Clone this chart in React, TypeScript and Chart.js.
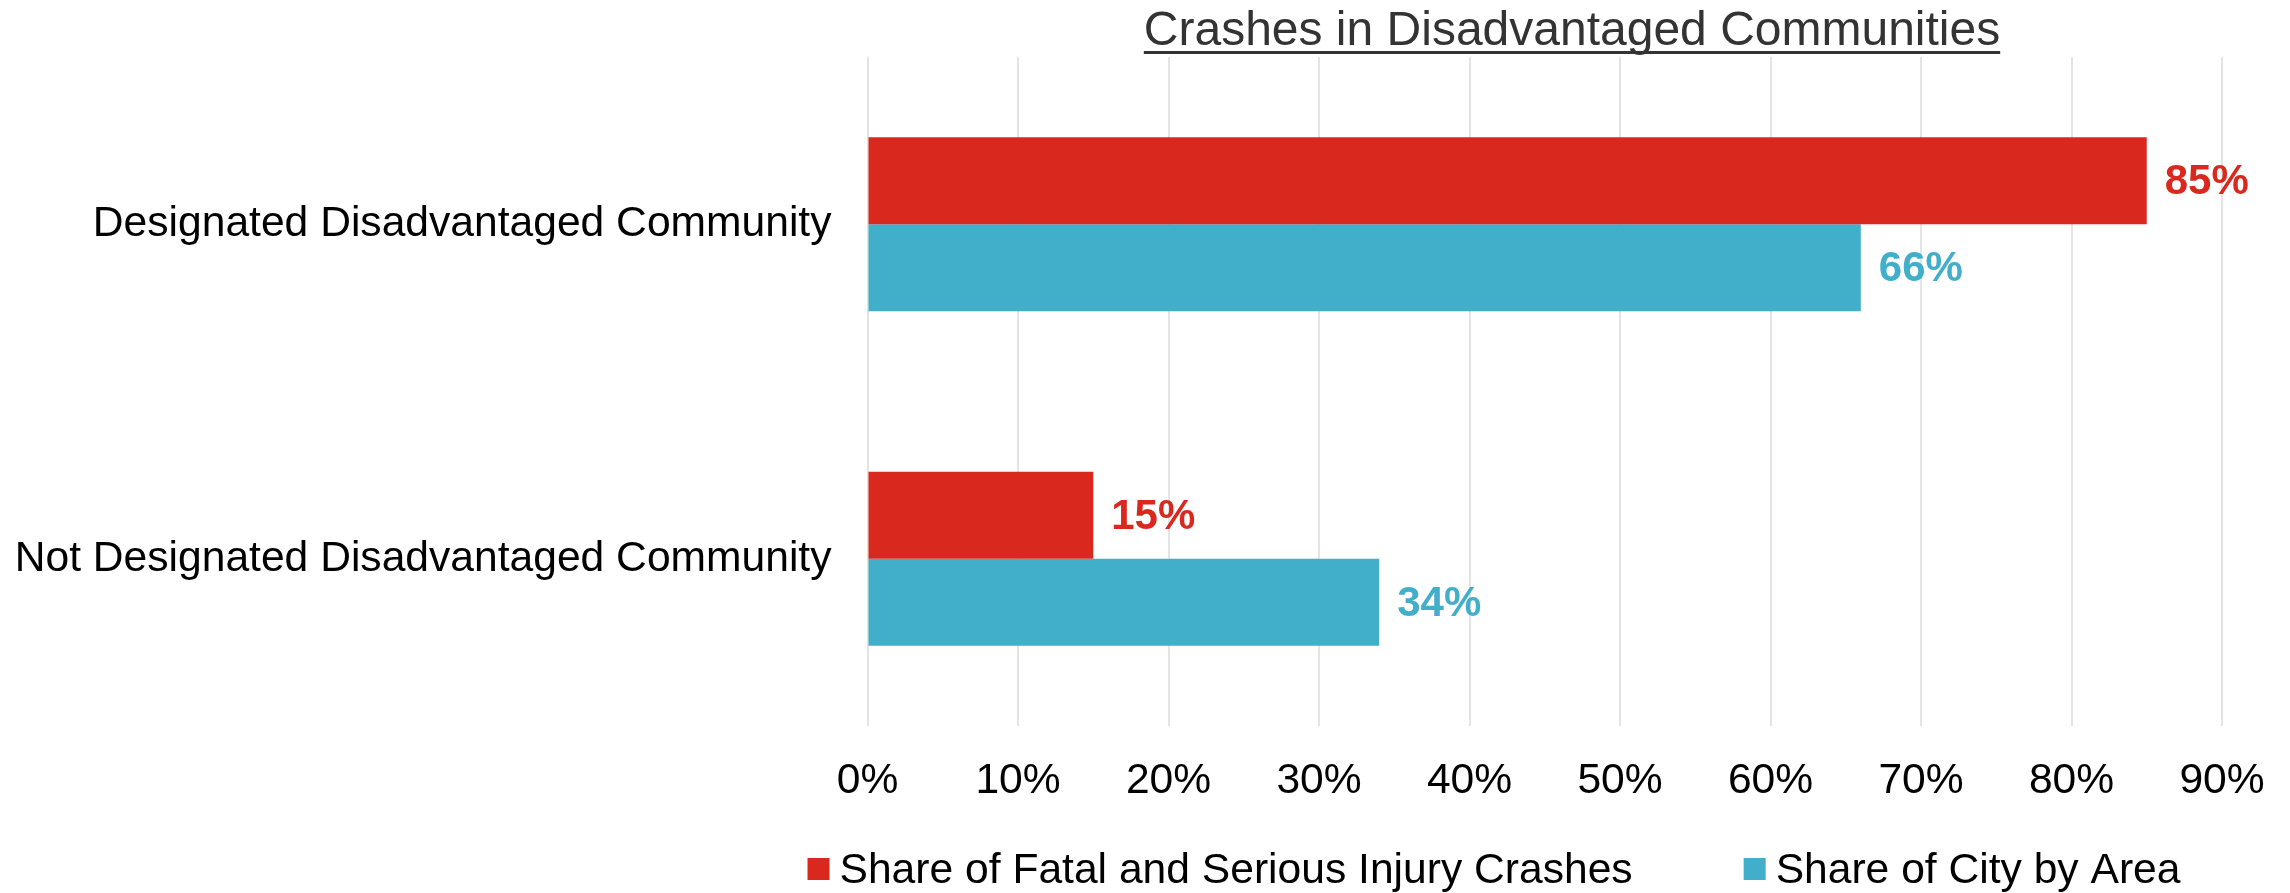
import React, { useEffect, useRef } from "react";
import { Chart, registerables } from "chart.js";

Chart.register(...registerables);

const categories = ["Designated Disadvantaged Community", "Not Designated Disadvantaged Community"];
const crashShare = [85, 15];
const areaShare = [66, 34];
const seriesNames = ["Share of Fatal and Serious Injury Crashes", "Share of City by Area"];
const seriesColors = ["#D9291E", "#41AFCA"];
const titleText = "Crashes in Disadvantaged Communities";
const xTicks = [0, 10, 20, 30, 40, 50, 60, 70, 80, 90];

const FONT = "'Liberation Sans', Arial, sans-serif";
const SIZE = 42.6;

const titlePlugin = {
  id: "customTitle",
  afterDraw(chart: any) {
    const ctx = chart.ctx;
    ctx.save();
    ctx.font = `48px ${FONT}`;
    ctx.fillStyle = "#333333";
    ctx.textAlign = "center";
    ctx.textBaseline = "alphabetic";
    const cx = 1572;
    const y = 45;
    ctx.fillText(titleText, cx, y);
    const w = ctx.measureText(titleText).width;
    ctx.fillRect(cx - w / 2, 51, w, 3);
    ctx.restore();
  },
};

const dataLabelPlugin = {
  id: "dataLabels",
  afterDatasetsDraw(chart: any) {
    const ctx = chart.ctx;
    ctx.save();
    ctx.font = `bold 42px ${FONT}`;
    ctx.textAlign = "left";
    ctx.textBaseline = "middle";
    chart.data.datasets.forEach((ds: any, i: number) => {
      const meta = chart.getDatasetMeta(i);
      ctx.fillStyle = ds.backgroundColor;
      meta.data.forEach((bar: any, j: number) => {
        ctx.fillText(`${ds.data[j]}%`, bar.x + 18, bar.y + 2);
      });
    });
    ctx.restore();
  },
};

const legendPlugin = {
  id: "customLegend",
  afterDraw(chart: any) {
    const ctx = chart.ctx;
    ctx.save();
    ctx.font = `${SIZE}px ${FONT}`;
    ctx.textBaseline = "middle";
    ctx.textAlign = "left";
    const y = 869;
    const box = 22;
    const gap = 10;
    const itemGap = 111;
    const widths = seriesNames.map((n) => ctx.measureText(n).width);
    const total = widths.reduce((a, b) => a + b, 0) + seriesNames.length * (box + gap) + itemGap * (seriesNames.length - 1);
    let x = 1494 - total / 2;
    seriesNames.forEach((n, i) => {
      ctx.fillStyle = seriesColors[i];
      ctx.fillRect(x, y - box / 2, box, box);
      x += box + gap;
      ctx.fillStyle = "#000000";
      ctx.fillText(n, x, y + 2);
      x += widths[i] + itemGap;
    });
    ctx.restore();
  },
};

export default function App() {
  const ref = useRef<HTMLCanvasElement | null>(null);
  useEffect(() => {
    document.body.style.margin = "0";
    const canvas = ref.current;
    if (!canvas) return;
    const chart = new Chart(canvas, {
      type: "bar",
      data: {
        labels: categories,
        datasets: [
          { label: seriesNames[0], data: crashShare, backgroundColor: seriesColors[0], borderWidth: 0 },
          { label: seriesNames[1], data: areaShare, backgroundColor: seriesColors[1], borderWidth: 0 },
        ],
      },
      options: {
        indexAxis: "y",
        animation: false,
        responsive: false,
        maintainAspectRatio: false,
        layout: { padding: { left: 0, right: 68, top: 57, bottom: 67 } },
        datasets: { bar: { categoryPercentage: 0.52, barPercentage: 1 } },
        plugins: { legend: { display: false }, title: { display: false }, tooltip: { enabled: false } },
        scales: {
          x: {
            min: 0,
            max: 90,
            afterBuildTicks(scale: any) {
              scale.ticks = xTicks.map((v) => ({ value: v }));
            },
            afterFit(scale: any) {
              scale.height = 100;
              scale.paddingLeft = 0;
              scale.paddingRight = 0;
            },
            ticks: {
              callback: (v: any) => `${v}%`,
              color: "#000000",
              font: { family: FONT, size: SIZE },
              padding: 30,
              maxRotation: 0,
              autoSkip: false,
            },
            grid: { color: "#E4E4E4", lineWidth: 2, drawTicks: false },
            border: { display: false },
          },
          y: {
            afterFit(scale: any) {
              scale.width = 867.5;
              scale.paddingTop = 0;
              scale.paddingBottom = 0;
            },
            ticks: {
              color: "#000000",
              font: { family: FONT, size: SIZE },
              padding: 36,
            },
            grid: { display: false, drawTicks: false },
            border: { display: false },
          },
        },
      },
      plugins: [titlePlugin, dataLabelPlugin, legendPlugin],
    } as any);
    return () => chart.destroy();
  }, []);
  return (
    <div style={{ position: "fixed", left: 0, top: 0, width: 2290, height: 893, background: "#fff" }}>
      <canvas ref={ref} width={2290} height={893} style={{ width: 2290, height: 893 }} />
    </div>
  );
}
